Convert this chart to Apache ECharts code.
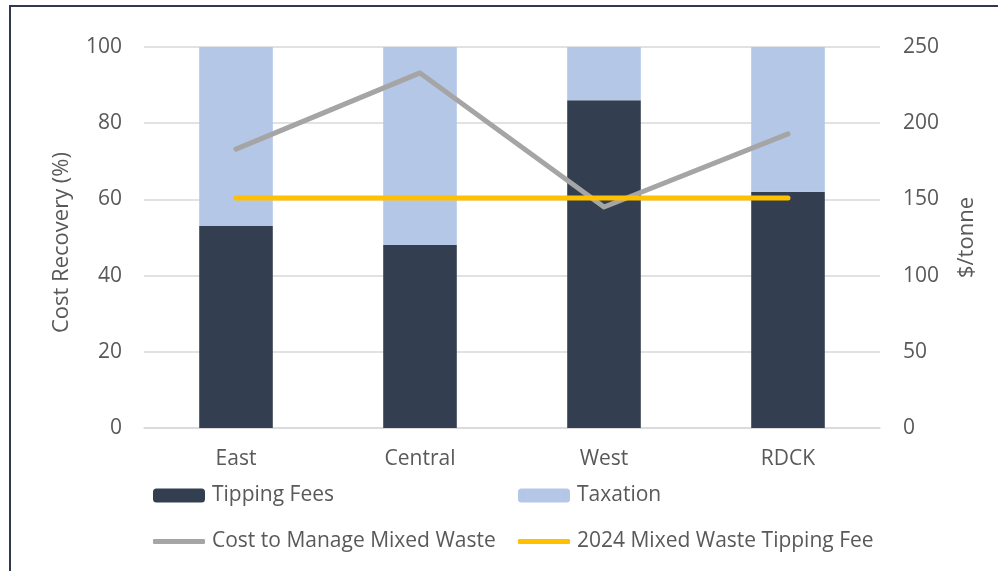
<!DOCTYPE html>
<html><head><meta charset="utf-8">
<script src="https://cdn.jsdelivr.net/npm/echarts@6/dist/echarts.min.js"></script>
<style>html,body{margin:0;padding:0;background:#fff;}#c{width:998px;height:571px;}
#frame{position:absolute;left:9px;top:5px;width:1000px;height:600px;border-left:2px solid #2f3a4d;border-top:2px solid #2f3a4d;pointer-events:none;}</style>
</head><body><div id="c"></div><div id="frame"></div>
<script>
const categories = ['East', 'Central', 'West', 'RDCK'];
const tippingFees = [53, 48, 86, 62];
const taxation = [47, 52, 14, 38];
const costToManage = [183, 233, 145, 193];
const tippingFee2024 = [151, 151, 151, 151];
const leftTicks = [0, 20, 40, 60, 80, 100];
const rightTicks = [0, 50, 100, 150, 200, 250];

const FONT = 'Open Sans';
const TXT = '#595959';
const FS = 21;
const chart = echarts.init(document.getElementById('c'));
const legendBase = {orient:'horizontal', itemWidth:52, itemHeight:14, itemGap:6,
  textStyle:{fontFamily:FONT, fontSize:FS, color:TXT, padding:[0,0,0,2]}};
chart.setOption({
  animation:false,
  textStyle:{fontFamily:FONT},
  grid:{left:144, right:118, top:47, bottom:143, containLabel:false},
  legend:[
    Object.assign({}, legendBase, {data:['Tipping Fees'], left:148, top:480}),
    Object.assign({}, legendBase, {data:['Taxation'], left:513, top:480}),
    Object.assign({}, legendBase, {data:[{name:'Cost to Manage Mixed Waste', icon:'roundRect'}], left:148, top:526, itemHeight:5}),
    Object.assign({}, legendBase, {data:[{name:'2024 Mixed Waste Tipping Fee', icon:'roundRect'}], left:513, top:526, itemHeight:5})
  ],
  xAxis:{type:'category', data:categories,
    axisLine:{lineStyle:{color:'#d9d9d9', width:1.5}}, axisTick:{show:false},
    axisLabel:{fontFamily:FONT, fontSize:FS, color:TXT, margin:21}},
  yAxis:[
    {type:'value', min:leftTicks[0], max:leftTicks[leftTicks.length-1], interval:20,
     name:'Cost Recovery (%)', nameLocation:'middle', nameGap:71, nameRotate:90,
     nameTextStyle:{fontFamily:FONT, fontSize:22, color:TXT, padding:[0,10,0,0]},
     axisLine:{show:false}, axisTick:{show:false},
     axisLabel:{fontFamily:FONT, fontSize:FS, color:TXT, margin:22},
     splitLine:{lineStyle:{color:'#d9d9d9', width:1.5}}},
    {type:'value', min:rightTicks[0], max:rightTicks[rightTicks.length-1], interval:50,
     name:'$/tonne', nameLocation:'middle', nameGap:76, nameRotate:90,
     nameTextStyle:{fontFamily:FONT, fontSize:22, color:TXT},
     axisLine:{show:false}, axisTick:{show:false},
     axisLabel:{fontFamily:FONT, fontSize:FS, color:TXT, margin:23},
     splitLine:{show:false}}
  ],
  series:[
    {name:'Tipping Fees', type:'bar', stack:'a', data:tippingFees, barWidth:'40%',
     itemStyle:{color:'#333f50'}},
    {name:'Taxation', type:'bar', stack:'a', data:taxation, barWidth:'40%',
     itemStyle:{color:'#b4c7e7'}},
    {name:'Cost to Manage Mixed Waste', type:'line', yAxisIndex:1, data:costToManage,
     symbol:'none', lineStyle:{color:'#a5a5a5', width:5, cap:'round', join:'round'}, itemStyle:{color:'#a5a5a5'}},
    {name:'2024 Mixed Waste Tipping Fee', type:'line', yAxisIndex:1, data:tippingFee2024,
     symbol:'none', lineStyle:{color:'#ffc000', width:5, cap:'round'}, itemStyle:{color:'#ffc000'}}
  ]
});
</script></body></html>
